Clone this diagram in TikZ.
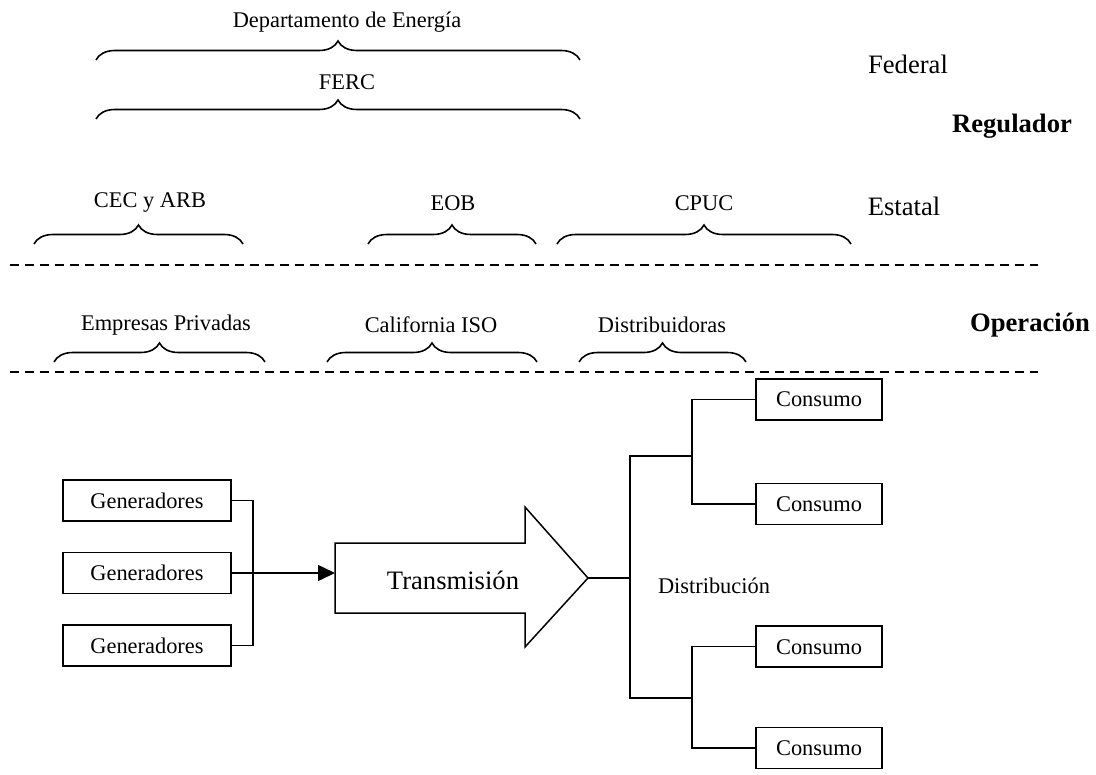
\documentclass[tikz,border=0pt]{standalone}
\usepackage{fontspec}
\setmainfont{Liberation Serif}
\usetikzlibrary{arrows.meta,positioning,decorations.pathreplacing}
\newcommand{\chico}{\fontsize{11.2}{13.4}\selectfont}
\newcommand{\grande}{\fontsize{13.3}{16}\selectfont}

\begin{document}
\begin{tikzpicture}[x=0.5pt,y=-0.5pt,line width=0.75pt,
  every node/.style={font=\chico,inner sep=1pt},
  llave/.style={decorate,decoration={brace,amplitude=9.5pt},line width=0.8pt},
  gen/.style={draw,minimum width=84pt,minimum height=20.5pt,inner sep=0pt},
  con/.style={draw,minimum width=63pt,minimum height=20.5pt,inner sep=0pt},
  nivel/.style={font=\grande},
  corte/.style={dash pattern=on 4.5pt off 3pt}]

  \useasboundingbox (0,0) rectangle (1096,775);

  % nivel federal
  \node (doe) at (347,22) {Departamento de Energía};
  \draw[llave] (96,60) -- (580,60);
  \node (ferc) at (347,82) {FERC};
  \draw[llave] (96,119) -- (580,119);

  \node[nivel] (federal) at (908,64) {Federal};
  \node[nivel,font=\grande\bfseries] (regulador) at (1012,126) {Regulador};

  % nivel estatal
  \node (cec) at (150,203) {CEC y ARB};
  \draw[llave] (34,244) -- (243,244);
  \node (eob) at (453,203) {EOB};
  \draw[llave] (368,244) -- (536,244);
  \node (cpuc) at (704,203) {CPUC};
  \draw[llave] (557,244) -- (851,244);
  \node[nivel] (estatal) at (904,206) {Estatal};

  \draw[corte] (10,265) -- (1038,265);

  % operacion
  \node (privadas) at (166,325) {Empresas Privadas};
  \draw[llave] (54,362) -- (265,362);
  \node (iso) at (431,325) {California ISO};
  \draw[llave] (327,362) -- (537,362);
  \node (distrib) at (662,325) {Distribuidoras};
  \draw[llave] (579,362) -- (746,362);
  \node[nivel,font=\grande\bfseries] (operacion) at (1030,325) {Operación};

  \draw[corte] (10,372) -- (1038,372);

  % sistema electrico
  \node[gen] (gen1) at (147,500.5) {Generadores};
  \node[gen,below=15pt of gen1] (gen2) {Generadores};
  \node[gen,below=15pt of gen2] (gen3) {Generadores};

  \coordinate (cola) at (335,571.5);
  \coordinate (punta) at (588,578);
  \draw (335,543) -- (525,543) -- (525,507) -- (punta) -- (525,647) -- (525,613) -- (335,613) -- cycle;
  \node[nivel] (trans) at (453,580) {Transmisión};

  \draw (gen1.east) -- ++(10.5pt,0) |- (gen3.east);
  \draw[-{Triangle[length=8.5pt,width=8pt]}] (gen2.east) -- (gen2.east -| cola);

  \node[con] (con1) at (819,399.5) {Consumo};
  \node[con,below=31pt of con1] (con2) {Consumo};
  \node[con] (con3) at (819,646.7) {Consumo};
  \node[con,below=29.5pt of con3] (con4) {Consumo};
  \node (dist) at (714,586) {Distribución};

  \coordinate (split) at (630,578);
  \coordinate (jup) at (692,456);
  \coordinate (jdown) at (692,698);

  \draw (punta) -- (split);
  \draw (jup) -| (split) |- (jdown);
  \draw (con1.west) -| (jup) |- (con2.west);
  \draw (con3.west) -| (jdown) |- (con4.west);

\end{tikzpicture}
\end{document}
